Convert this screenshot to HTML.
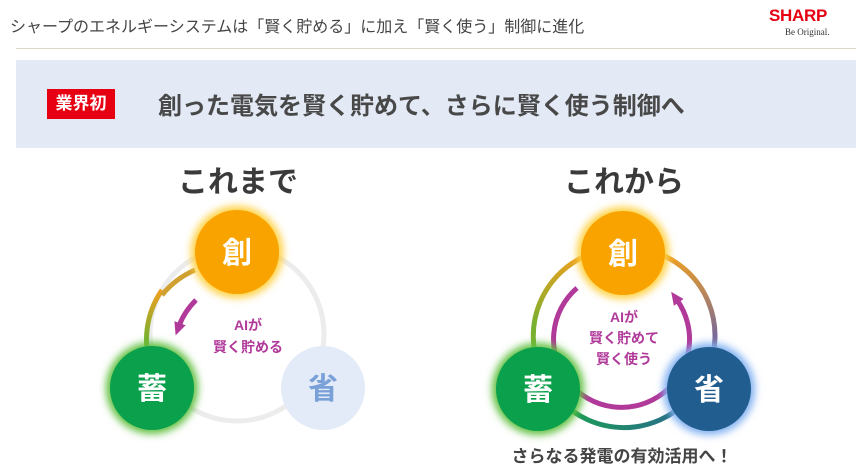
<!DOCTYPE html>
<html><head><meta charset="utf-8"><style>
body{margin:0;width:862px;height:470px;background:#fff;overflow:hidden;font-family:"Liberation Sans","Noto Sans CJK JP",sans-serif;position:relative}
.t{position:absolute;left:10px;top:13px;font-size:16px;color:#444}
.logo{position:absolute;left:769px;top:6px;color:#e60012;font-weight:bold;font-size:17px;letter-spacing:-0.3px}
.logo2{position:absolute;left:785px;top:27px;font-family:"Liberation Serif",serif;font-size:9px;color:#333}
.hr{position:absolute;left:16px;top:48px;width:840px;height:1px;background:#ddd8c8}
.band{position:absolute;left:16px;top:60px;width:840px;height:88px;background:#e3eaf5}
.tag{position:absolute;left:47px;top:89px;width:68px;height:30px;background:#e60012;color:#fff;font-weight:bold;font-size:17px;line-height:30px;text-align:center}
.hd{position:absolute;left:158px;top:86px;font-size:24px;font-weight:bold;color:#484848}
</style></head><body>
<div class="t">シャープのエネルギーシステムは「賢く貯める」に加え「賢く使う」制御に進化</div>
<div class="logo">SHARP</div><div class="logo2">Be Original.</div>
<div class="hr"></div>
<div class="band"></div>
<div class="tag">業界初</div>
<div class="hd">創った電気を賢く貯めて、さらに賢く使う制御へ</div>
<svg width="862" height="470" style="position:absolute;left:0;top:0" font-family="Liberation Sans, Noto Sans CJK JP, sans-serif">
<defs>
<linearGradient id="g1" x1="0" y1="0" x2="0" y2="1"><stop offset="0" stop-color="#f0a020"/><stop offset="0.6" stop-color="#7ab030"/></linearGradient>
<linearGradient id="g2" x1="0" y1="0" x2="1" y2="0"><stop offset="0" stop-color="#1aa050"/><stop offset="1" stop-color="#2a6a90"/></linearGradient>
<linearGradient id="g3" x1="0" y1="0" x2="0" y2="1"><stop offset="0" stop-color="#f0a020"/><stop offset="0.7" stop-color="#7a6a98"/></linearGradient>
<filter id="gl" x="-50%" y="-50%" width="200%" height="200%"><feGaussianBlur stdDeviation="4"/></filter>
<marker id="ah" markerUnits="userSpaceOnUse" markerWidth="14" markerHeight="14" refX="3" refY="7" orient="auto"><path d="M0,1 L13,7 L0,13 z" fill="#b0399a"/></marker>
</defs>
<text x="238" y="192" font-size="30" font-weight="bold" fill="#3a3a3a" text-anchor="middle">これまで</text>
<text x="624" y="192" font-size="30" font-weight="bold" fill="#3a3a3a" text-anchor="middle">これから</text>
<!-- left -->
<circle cx="237" cy="334" r="87" fill="none" stroke="#ececec" stroke-width="5"/>
<path d="M162,290 A87,87 0 0 0 152,370" fill="none" stroke="url(#g1)" stroke-width="5"/>
<path d="M195,270 A87,87 0 0 0 162,295" fill="none" stroke="#d0a030" stroke-width="5"/>
<path d="M196,300 Q184,312 179,326" fill="none" stroke="#b0399a" stroke-width="5" marker-end="url(#ah)"/>
<text x="248" y="330" font-size="14" font-weight="bold" fill="#b0399a" text-anchor="middle">AIが</text>
<text x="248" y="352" font-size="14" font-weight="bold" fill="#b0399a" text-anchor="middle">賢く貯める</text>
<circle cx="237" cy="252" r="46" fill="#ffd040" filter="url(#gl)"/>
<circle cx="237" cy="252" r="42" fill="#f8a300"/>
<circle cx="152" cy="388" r="46" fill="#60c040" filter="url(#gl)"/>
<circle cx="152" cy="388" r="42" fill="#0aa04c"/>
<circle cx="323" cy="388" r="42" fill="#e2ebf7"/>
<text x="237" y="263" font-size="30" font-weight="bold" fill="#fff" text-anchor="middle">創</text>
<text x="152" y="399" font-size="30" font-weight="bold" fill="#fff" text-anchor="middle">蓄</text>
<text x="323" y="399" font-size="30" font-weight="bold" fill="#7aa0d8" text-anchor="middle">省</text>
<!-- right -->
<path d="M590,254 A88,88 0 0 0 540,370" fill="none" stroke="url(#g1)" stroke-width="5"/>
<path d="M660,254 A88,88 0 0 1 708,370" fill="none" stroke="url(#g3)" stroke-width="5"/>
<path d="M560,400 A88,88 0 0 0 688,400" fill="none" stroke="url(#g2)" stroke-width="5"/>
<path d="M577,288 A68,68 0 1 0 677,300" fill="none" stroke="#b0399a" stroke-width="5" marker-end="url(#ah)"/>
<text x="624" y="322" font-size="14" font-weight="bold" fill="#b0399a" text-anchor="middle">AIが</text>
<text x="624" y="343" font-size="14" font-weight="bold" fill="#b0399a" text-anchor="middle">賢く貯めて</text>
<text x="624" y="364" font-size="14" font-weight="bold" fill="#b0399a" text-anchor="middle">賢く使う</text>
<circle cx="623" cy="253" r="46" fill="#ffd040" filter="url(#gl)"/>
<circle cx="623" cy="253" r="42" fill="#f8a300"/>
<circle cx="538" cy="389" r="46" fill="#60c040" filter="url(#gl)"/>
<circle cx="538" cy="389" r="42" fill="#0aa04c"/>
<circle cx="709" cy="389" r="46" fill="#80b0f0" filter="url(#gl)"/>
<circle cx="709" cy="389" r="42" fill="#225d8f"/>
<text x="623" y="264" font-size="30" font-weight="bold" fill="#fff" text-anchor="middle">創</text>
<text x="538" y="400" font-size="30" font-weight="bold" fill="#fff" text-anchor="middle">蓄</text>
<text x="709" y="400" font-size="30" font-weight="bold" fill="#fff" text-anchor="middle">省</text>
<text x="622" y="462" font-size="17" font-weight="bold" fill="#444" text-anchor="middle">さらなる発電の有効活用へ！</text>
</svg>
</body></html>
